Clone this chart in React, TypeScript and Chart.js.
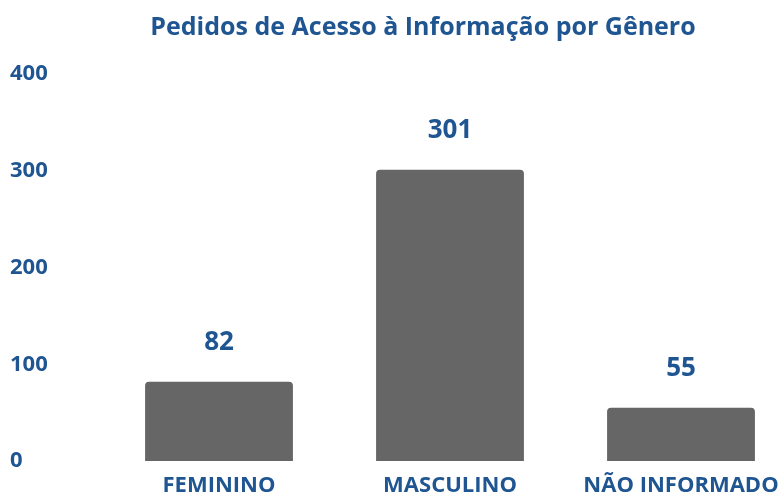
import React, { useEffect, useRef } from "react";
import { Chart, registerables } from "chart.js";

Chart.register(...registerables);

const title = "Pedidos de Acesso à Informação por Gênero";
const categories = ["FEMININO", "MASCULINO", "NÃO INFORMADO"];
const values = [82, 301, 55];
const yTicks = [0, 100, 200, 300, 400];

const FONT = "'Open Sans', 'Liberation Sans', sans-serif";
const BLUE = "#1F5591";
const BAR = "#666666";

export default function App() {
  const ref = useRef<HTMLCanvasElement | null>(null);
  useEffect(() => {
    if (!ref.current) return;
    const valueLabels = {
      id: "valueLabels",
      afterDatasetsDraw(chart: any) {
        const ctx = chart.ctx;
        const meta = chart.getDatasetMeta(0);
        ctx.save();
        ctx.font = `bold 26px ${FONT}`;
        ctx.fillStyle = BLUE;
        ctx.textAlign = "center";
        ctx.textBaseline = "middle";
        meta.data.forEach((bar: any, i: number) => {
          ctx.fillText(String(values[i]), bar.x, bar.y - 39);
        });
        ctx.restore();
      },
    };
    const titlePlugin = {
      id: "customTitle",
      afterDraw(chart: any) {
        const ctx = chart.ctx;
        ctx.save();
        ctx.font = `bold 25px ${FONT}`;
        ctx.fillStyle = BLUE;
        ctx.textAlign = "center";
        ctx.textBaseline = "alphabetic";
        ctx.fillText(title, chart.width / 2, 35);
        ctx.restore();
      },
    };
    const chart = new Chart(ref.current, {
      type: "bar",
      data: {
        labels: categories,
        datasets: [
          {
            data: values,
            backgroundColor: BAR,
            borderRadius: { topLeft: 4, topRight: 4, bottomLeft: 0, bottomRight: 0 },
            borderSkipped: "bottom",
            barPercentage: 0.64,
            categoryPercentage: 1,
          },
        ],
      },
      options: {
        responsive: false,
        animation: false,
        layout: { padding: { left: 10, right: 49.5, top: 74, bottom: 0 } },
        plugins: {
          legend: { display: false },
          title: { display: false },
          tooltip: { enabled: false },
        },
        scales: {
          x: {
            grid: { display: false, drawTicks: false },
            border: { display: false },
            ticks: {
              color: BLUE,
              font: { family: FONT, size: 22, weight: "bold" },
              padding: 12,
              maxRotation: 0,
              autoSkip: false,
            },
            afterFit(scale: any) {
              scale.height = 37;
            },
          },
          y: {
            min: 0,
            max: 400,
            afterBuildTicks(scale: any) {
              scale.ticks = yTicks.map((v) => ({ value: v }));
            },
            grid: { display: false, drawTicks: false },
            border: { display: false },
            ticks: {
              color: BLUE,
              font: { family: FONT, size: 22, weight: "bold" },
              crossAlign: "far",
              padding: 0,
            },
            afterFit(scale: any) {
              scale.width = 93.5;
            },
          },
        },
      },
      plugins: [valueLabels, titlePlugin],
    });
    return () => chart.destroy();
  }, []);
  return (
    <div
      style={{
        position: "fixed",
        left: 0,
        top: 0,
        width: 779,
        height: 498,
        overflow: "hidden",
        background: "#fff",
      }}
    >
      <canvas ref={ref} width={846} height={498} style={{ display: "block" }} />
    </div>
  );
}
